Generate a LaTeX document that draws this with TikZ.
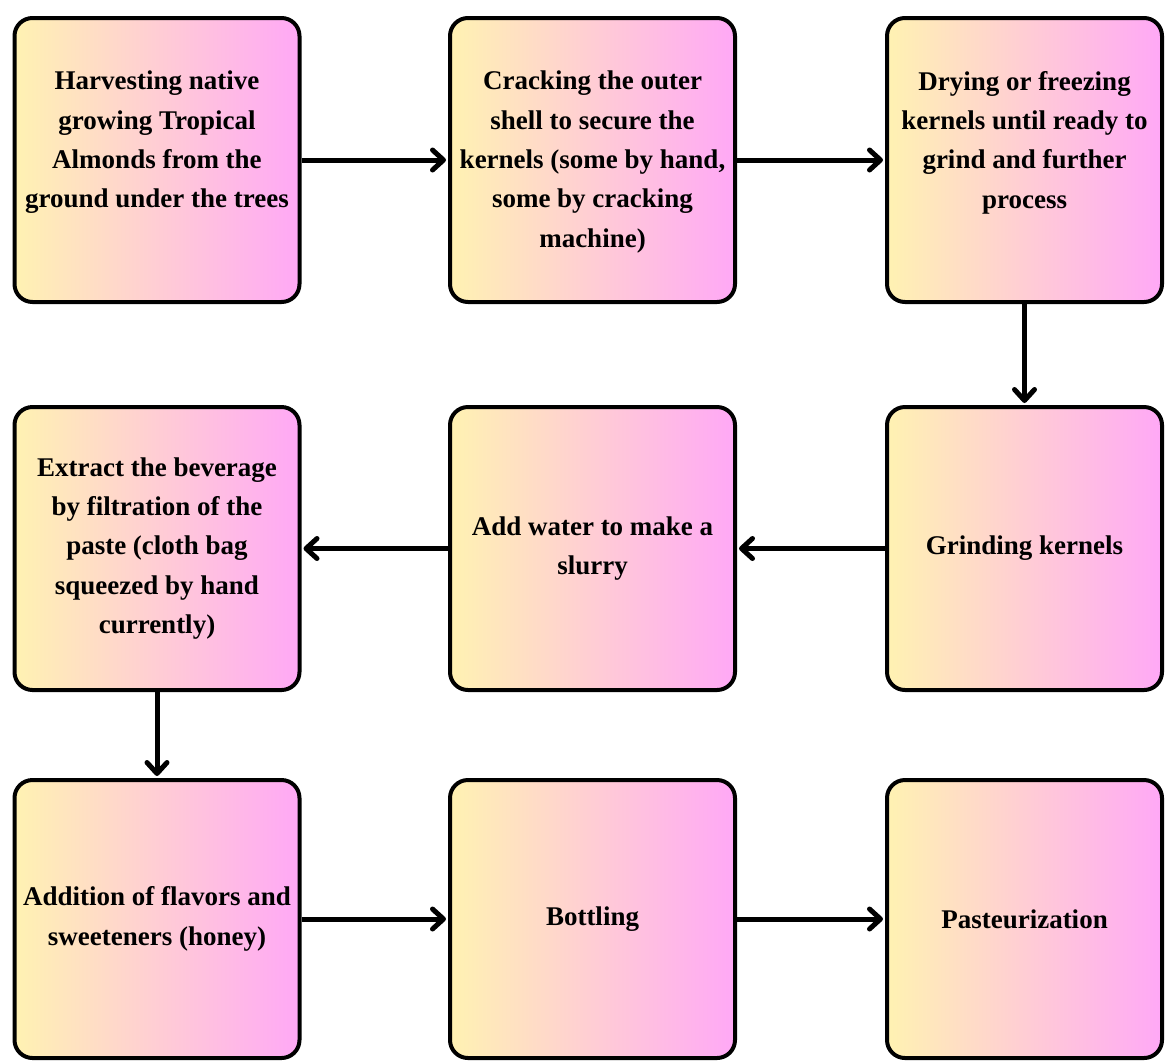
\documentclass[tikz,border=0pt]{standalone}
\usepackage{fontspec}
\setmainfont{Liberation Serif}
\usetikzlibrary{arrows.meta}

\definecolor{stepyellow}{HTML}{FFF2B2}
\definecolor{steppink}{HTML}{FFA8F6}
\newcommand{\stepfont}{\fontsize{27pt}{39.3pt}\selectfont\bfseries}

\begin{document}
\begin{tikzpicture}[x=1pt, y=1pt,
    >={Straight Barb[length=11pt, width=20pt, round]}, shorten >=2pt,
    stepbox/.style={draw, line width=4pt, rounded corners=18pt,
      left color=stepyellow, right color=steppink,
      minimum width=285pt, minimum height=284pt,
      font=\stepfont, align=center, inner sep=0pt},
    steptext/.style={font=\stepfont, align=center, inner sep=0pt, anchor=north},
    link/.style={->, line width=5pt}]

    \useasboundingbox (0,0) rectangle (1166,-1061);

    %define the boxes
    \node[stepbox] (harvest) at (157,-160) {};
    \node[stepbox] (crack) [right of=harvest, node distance=435.5pt] {};
    \node[stepbox, minimum width=275pt] (dry) [right of=crack, node distance=432pt] {};
    \node[stepbox, minimum width=275pt, minimum height=283pt] (grind) [below of=dry, node distance=388.5pt] {Grinding kernels};
    \node[stepbox, minimum height=283pt] (water) [left of=grind, node distance=432pt] {Add water to make a\\slurry};
    \node[stepbox, minimum height=283pt] (extract) [left of=water, node distance=435.5pt] {Extract the beverage\\by filtration of the\\paste (cloth bag\\squeezed by hand\\currently)};
    \node[stepbox, minimum height=278pt] (flavor) [below of=extract, node distance=370.5pt] {Addition of flavors and\\sweeteners (honey)};
    \node[stepbox, minimum height=278pt] (bottle) [right of=flavor, node distance=435.5pt] {Bottling};
    \node[stepbox, minimum width=275pt, minimum height=278pt] (pasteur) [right of=bottle, node distance=432pt] {Pasteurization};

    %texts of the first row
    \node[steptext] (harvestText) at ([yshift=-55pt]harvest.north) {Harvesting native\\growing Tropical\\Almonds from the\\ground under the trees};
    \node[steptext] (crackText) at ([yshift=-55pt]crack.north) {Cracking the outer\\shell to secure the\\kernels (some by hand,\\some by cracking\\machine)};
    \node[steptext] (dryText) at ([yshift=-55pt]dry.north) {Drying or freezing\\kernels until ready to\\grind and further\\process};

    %define the links
    \path[link] (harvest) edge (crack)
    (crack) edge (dry)
    (dry) edge (grind)
    (grind) edge (water)
    (water) edge (extract)
    (extract) edge (flavor)
    (flavor) edge (bottle)
    (bottle) edge (pasteur);
  \end{tikzpicture}
\end{document}
